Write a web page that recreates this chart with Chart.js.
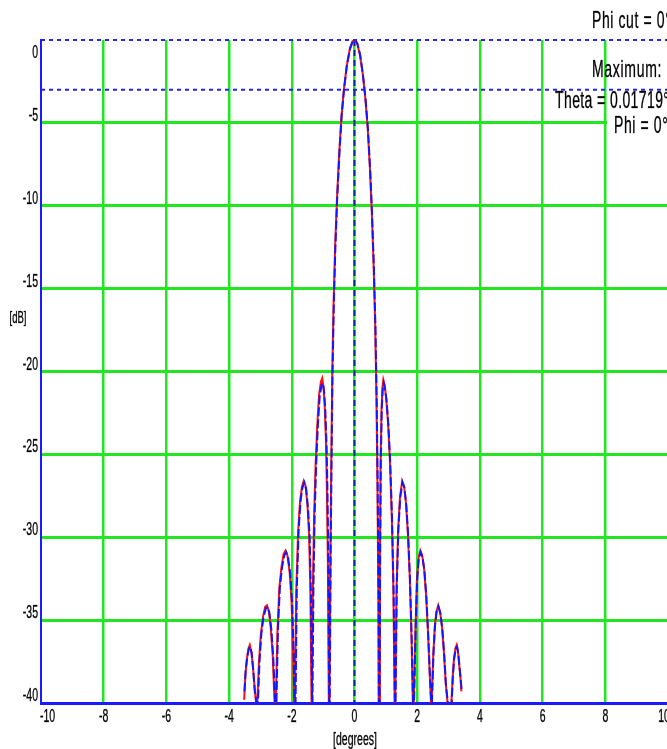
<!DOCTYPE html>
<html>
<head>
<meta charset="utf-8">
<script src="https://cdn.jsdelivr.net/npm/chart.js@4/dist/chart.umd.min.js"></script>
<style>
html,body{margin:0;padding:0;background:#fff;overflow:hidden;}
#wrap{position:relative;width:668px;height:749px;}
</style>
</head>
<body>
<div id="wrap"><canvas id="c"></canvas></div>
<script>
// ---- data ----
const blueDeg = [-3.51,-3.47,-3.42,-3.37,-3.33,-3.28,-3.23,-3.18,-3.12,
 -3.08,-3.03,-2.97,-2.90,-2.83,-2.77,-2.71,-2.65,-2.59,-2.53,
 -2.49,-2.44,-2.38,-2.31,-2.24,-2.18,-2.12,-2.05,-1.99,-1.94,-1.91,
 -1.88,-1.84,-1.78,-1.72,-1.66,-1.60,-1.54,-1.48,-1.43,-1.39,-1.35,
 -1.34,-1.31,-1.27,-1.22,-1.17,-1.11,-1.05,-1.01,-0.97,-0.93,-0.89,-0.86,-0.83,-0.81,
 -0.79,-0.76,-0.73,-0.70,-0.66,-0.61,-0.55,-0.48,-0.41,-0.33,-0.24,-0.14,-0.05,0.02,0.09,0.18,0.27,0.35,0.43,0.50,0.56,0.62,0.67,0.71,0.74,0.77,0.78,
 0.80,0.82,0.84,0.87,0.90,0.93,0.97,1.02,1.08,1.14,1.20,1.25,1.29,
 1.31,1.35,1.40,1.46,1.53,1.59,1.65,1.71,1.77,1.83,1.87,
 1.90,1.95,2.00,2.05,2.11,2.17,2.23,2.29,2.35,2.41,2.45,
 2.47,2.52,2.57,2.62,2.68,2.74,2.80,2.86,2.92,2.98,
 3.10,3.14,3.18,3.23,3.27,3.31,3.35,3.39,3.42];
const blueDb = [-39.3,-38.0,-37.2,-36.7,-36.6,-37.0,-38.0,-39.3,-40,
 -40,-37.5,-35.8,-34.8,-34.3,-34.2,-34.6,-35.6,-37.3,-40,
 -40,-35.5,-33.0,-31.8,-31.1,-30.9,-31.2,-32.2,-34.0,-37.0,-40,
 -40,-33.0,-29.5,-27.8,-27.0,-26.7,-27.1,-28.3,-30.0,-33.5,-40,
 -40,-33,-28.5,-25.5,-23.3,-21.5,-20.8,-20.7,-21.2,-22.4,-24.5,-27.5,-32,-40,
 -40,-31,-25,-20,-16,-12.5,-9.5,-6.8,-4.6,-2.9,-1.5,-0.5,-0.05,0,-0.2,-0.9,-2.1,-3.5,-5.4,-7.8,-10.5,-13.8,-17.5,-22,-27,-34,-40,
 -40,-31,-25.5,-22.3,-21.1,-20.7,-21.0,-21.7,-23.2,-25.5,-29,-33.5,-40,
 -40,-33,-29.5,-27.6,-26.7,-27.0,-28.0,-29.8,-32.5,-36.5,-40,
 -40,-35.5,-32.5,-31.3,-30.9,-31.2,-32.0,-33.5,-35.8,-38.5,-40,
 -40,-37.0,-35.3,-34.5,-34.2,-34.6,-35.5,-37.0,-39.0,-40,
 -40,-38.3,-37.3,-36.7,-36.6,-37.0,-37.8,-38.6,-39.3];
const redDeg = [-3.52,-3.48,-3.43,-3.38,-3.34,-3.29,-3.24,-3.19,-3.14,
 -3.10,-3.05,-2.99,-2.92,-2.85,-2.79,-2.73,-2.67,-2.61,-2.55,
 -2.51,-2.46,-2.40,-2.33,-2.26,-2.20,-2.14,-2.07,-2.01,-1.96,-1.93,
 -1.90,-1.86,-1.80,-1.74,-1.68,-1.62,-1.56,-1.50,-1.45,-1.41,-1.37,
 -1.36,-1.33,-1.29,-1.24,-1.19,-1.13,-1.07,-1.03,-0.99,-0.95,-0.91,-0.88,-0.85,-0.82,
 -0.80,-0.77,-0.74,-0.71,-0.67,-0.62,-0.56,-0.49,-0.42,-0.34,-0.25,-0.15,-0.06,0.01,0.08,0.17,0.26,0.34,0.42,0.49,0.55,0.61,0.66,0.70,0.73,0.76,0.77,
 0.79,0.81,0.83,0.86,0.89,0.92,0.96,1.01,1.07,1.13,1.19,1.24,1.28,
 1.30,1.34,1.39,1.45,1.52,1.58,1.64,1.70,1.76,1.82,1.86,
 1.89,1.94,1.99,2.04,2.10,2.16,2.22,2.28,2.34,2.40,2.44,
 2.46,2.51,2.56,2.61,2.67,2.73,2.79,2.85,2.91,2.97,
 3.09,3.13,3.17,3.22,3.26,3.30,3.34,3.38,3.41];
const redDb = [-39.8,-38.3,-37.3,-36.7,-36.5,-36.9,-37.8,-39.0,-40,
 -40,-37.6,-35.9,-34.8,-34.2,-34.1,-34.5,-35.5,-37.1,-40,
 -40,-35.8,-33.1,-31.8,-31.0,-30.8,-31.1,-32.1,-33.8,-36.8,-40,
 -40,-33.4,-29.7,-27.9,-27.0,-26.6,-26.9,-28.1,-29.8,-33.0,-40,
 -40,-33.5,-28.8,-25.6,-23.3,-21.4,-20.6,-20.4,-20.9,-22.1,-24.2,-27.2,-31.5,-40,
 -40,-31.5,-25.3,-20.2,-16.1,-12.6,-9.6,-6.9,-4.7,-3.0,-1.6,-0.55,-0.07,0,-0.18,-0.85,-2.0,-3.4,-5.3,-7.7,-10.3,-13.6,-17.2,-21.6,-26.5,-33.5,-40,
 -40,-31.5,-25.8,-22.4,-21.0,-20.5,-20.8,-21.6,-23.1,-25.4,-28.8,-33.2,-40,
 -40,-33.2,-29.6,-27.6,-26.6,-26.9,-27.9,-29.7,-32.3,-36.2,-40,
 -40,-35.8,-32.6,-31.3,-30.8,-31.1,-31.9,-33.4,-35.6,-38.3,-40,
 -40,-37.2,-35.4,-34.5,-34.1,-34.5,-35.4,-36.9,-38.8,-40,
 -40,-38.5,-37.4,-36.7,-36.5,-36.9,-37.7,-38.5,-39.3];
const maxDb = 0;
const halfPowerDb = -3;
const xRange = [-10, 10];
const yRange = [-40, 0];
const xStep = 2;
const yStep = 5;
const xTitle = '[degrees]';
const yTitle = '[dB]';
const infoLines = ['Phi cut = 0\u00b0', 'Maximum:', 'Theta = 0.01719\u00b0', 'Phi = 0\u00b0'];

const toPts = (xs, ys) => xs.map((x, i) => ({x: x, y: ys[i]}));
const GREEN = '#22e622';
const BLUE = '#1a1aff';
const FONT = '"Liberation Sans", Arial, sans-serif';
const SY = 1.75; // vertical stretch of all text, as in the reference

function stretchedText(ctx, t, x, y, size, align, baseline, spacing) {
  ctx.save();
  ctx.translate(x, y);
  ctx.scale(1, SY);
  ctx.font = size + 'px ' + FONT;
  ctx.letterSpacing = (spacing || 0) + 'px';
  ctx.fillStyle = '#000';
  ctx.strokeStyle = 'rgba(0,0,0,0.55)';
  ctx.lineWidth = 0.35;
  ctx.textAlign = align;
  ctx.textBaseline = baseline;
  ctx.fillText(t, 0, 0);
  ctx.strokeText(t, 0, 0);
  ctx.restore();
}

const overlay = {
  id: 'overlay',
  beforeDatasetsDraw(chart) {
    const ctx = chart.ctx;
    ctx.save();
    ctx.fillStyle = '#ffffff';
    ctx.fillRect(607, 53, 70, 80);
    ctx.restore();
  },
  afterDraw(chart) {
    const ctx = chart.ctx;
    const xs = chart.scales.x, ys = chart.scales.y;
    // x tick labels from the library's ticks
    xs.ticks.forEach(t => {
      let px = xs.getPixelForValue(t.value);
      px = Math.min(Math.max(px, xs.left + 6.5), xs.right - 4);
      stretchedText(ctx, t.label, px, 717, 10.5, 'center', 'middle');
    });
    // y tick labels
    ys.ticks.forEach(t => {
      let py = ys.getPixelForValue(t.value) - 7;
      py = Math.max(py, ys.top + 13);
      stretchedText(ctx, t.label, 38, py, 10.5, 'right', 'middle');
    });
    stretchedText(ctx, xTitle, 355, 740, 10.5, 'center', 'middle');
    stretchedText(ctx, yTitle, 18, 318, 9.5, 'center', 'middle');
    // info block
    stretchedText(ctx, infoLines[0], 592, 28, 14, 'left', 'alphabetic', 0.6);
    stretchedText(ctx, infoLines[1], 592, 77, 14, 'left', 'alphabetic', 0.7);
    stretchedText(ctx, infoLines[2], 555, 108, 14, 'left', 'alphabetic', 0.4);
    stretchedText(ctx, infoLines[3], 614, 133, 14, 'left', 'alphabetic', 0.6);
  }
};

new Chart(document.getElementById('c'), {
  type: 'scatter',
  data: {
    datasets: [
      {data: [{x: xRange[0], y: maxDb}, {x: xRange[1], y: maxDb}], showLine: true, borderColor: '#2424e0', borderWidth: 2, borderDash: [4, 4], pointRadius: 0, clip: false},
      {data: [{x: xRange[0], y: halfPowerDb}, {x: xRange[1], y: halfPowerDb}], showLine: true, borderColor: '#2424e0', borderWidth: 2, borderDash: [4, 4], pointRadius: 0, clip: false},
      {data: toPts(blueDeg, blueDb), showLine: true, borderColor: '#1515ff', borderWidth: 2, borderDash: [9, 3], pointRadius: 0, tension: 0},
      {data: toPts(redDeg, redDb), showLine: true, borderColor: '#ff1010', borderWidth: 2, pointRadius: 0, tension: 0},
      {data: [{x: 0, y: maxDb}, {x: 0, y: yRange[0]}], showLine: true, borderColor: '#0a2a9a', borderWidth: 2, borderDash: [6, 4], pointRadius: 0}
    ]
  },
  options: {
    responsive: true,
    maintainAspectRatio: false,
    animation: false,
    events: [],
    layout: {padding: {top: 40, left: 0, right: 0, bottom: 0}},
    plugins: {legend: {display: false}, tooltip: {enabled: false}},
    scales: {
      x: {
        type: 'linear', min: xRange[0], max: xRange[1],
        ticks: {stepSize: xStep, display: false},
        grid: {color: c => (c.tick && (c.tick.value === xRange[0] || c.tick.value === xRange[1])) ? 'rgba(0,0,0,0)' : GREEN, lineWidth: 2.5, drawTicks: false},
        border: {color: BLUE, width: 3},
        afterFit: s => { s.height = 46; }
      },
      y: {
        min: yRange[0], max: yRange[1],
        ticks: {stepSize: yStep, display: false},
        grid: {color: c => (c.tick && (c.tick.value === yRange[0] || c.tick.value === yRange[1])) ? 'rgba(0,0,0,0)' : GREEN, lineWidth: 3, drawTicks: false},
        border: {color: BLUE, width: 2},
        afterFit: s => { s.width = 41; }
      }
    }
  },
  plugins: [overlay]
});
</script>
</body>
</html>
